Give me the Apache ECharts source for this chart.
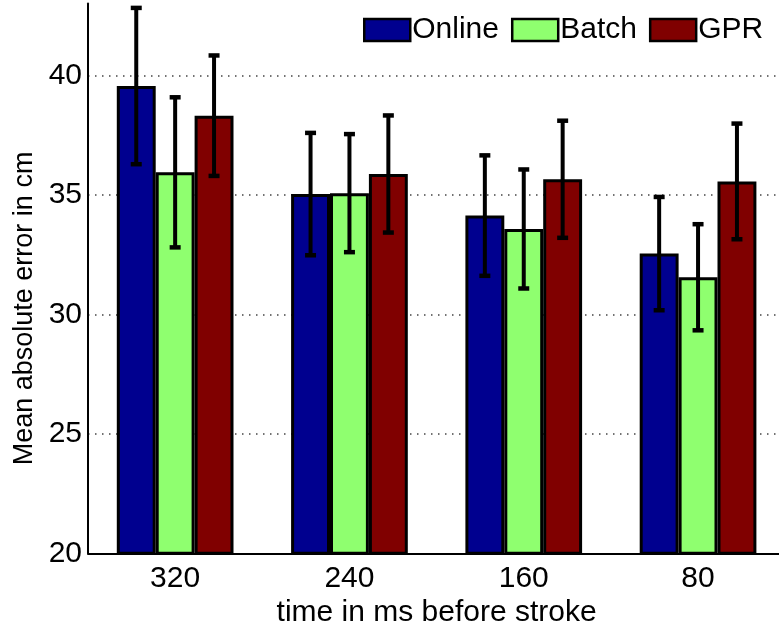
<!DOCTYPE html>
<html>
<head>
<meta charset="utf-8">
<script src="https://cdn.jsdelivr.net/npm/echarts@6/dist/echarts.min.js"></script>
<style>html,body{margin:0;padding:0;background:#fff}#c{width:779px;height:626px}</style>
</head>
<body>
<div id="c"></div>
<script>
const categories = ['320', '240', '160', '80'];
const seriesNames = ['Online', 'Batch', 'GPR'];
const online = [39.55, 35.03, 34.13, 32.54];
const batch = [35.94, 35.07, 33.57, 31.55];
const gpr = [38.31, 35.87, 35.65, 35.56];
const onlineErr = [3.27, 2.56, 2.52, 2.37];
const batchErr = [3.14, 2.47, 2.49, 2.22];
const gprErr = [2.52, 2.45, 2.45, 2.42];
const yTicks = [20, 25, 30, 35, 40];

const colors = ['#00008F', '#8FFF6F', '#800000'];
const BAR_W = 38.9;
const FONT = 'Liberation Sans, Arial, Helvetica, sans-serif';

const values = [online, batch, gpr];
const errs = [onlineErr, batchErr, gprErr];
const errData = [];
values.forEach((arr, si) => arr.forEach((v, ci) => {
  errData.push([ci, si, v - errs[si][ci], v + errs[si][ci]]);
}));

const chart = echarts.init(document.getElementById('c'), null, {renderer: 'canvas'});
chart.setOption({
  animation: false,
  backgroundColor: '#fff',
  grid: {left: 88, right: -6.2, top: 3.6, bottom: 72.7, containLabel: false, outerBoundsMode: 'none'},
  legend: {
    data: seriesNames,
    left: 358, top: 10,
    itemWidth: 46, itemHeight: 22, itemGap: 12,
    icon: 'rect',
    itemStyle: {borderColor: '#000', borderWidth: 2.5},
    textStyle: {fontFamily: FONT, fontSize: 30, color: '#000', padding: [0, 0, 0, -3]}
  },
  xAxis: {
    type: 'category',
    data: categories,
    boundaryGap: true,
    name: 'time in ms before stroke',
    nameLocation: 'middle',
    nameGap: 38,
    nameTextStyle: {fontFamily: FONT, fontSize: 30, color: '#000'},
    axisLine: {lineStyle: {color: '#000', width: 2}},
    axisTick: {show: false},
    axisLabel: {fontFamily: FONT, fontSize: 30, color: '#000', margin: 10},
    splitLine: {show: false}
  },
  yAxis: {
    type: 'value',
    min: 20, max: 43, interval: 5,
    name: 'Mean absolute error in cm',
    nameLocation: 'middle',
    nameGap: 50,
    nameTextStyle: {fontFamily: FONT, fontSize: 27, color: '#000', padding: [0, 60, 0, 0]},
    axisLine: {show: true, lineStyle: {color: '#000', width: 2}},
    axisTick: {show: false},
    axisLabel: {
      fontFamily: FONT, fontSize: 30, color: '#000', margin: 6,
      showMaxLabel: false,
      formatter: v => (yTicks.indexOf(v) >= 0 ? String(v) : '')
    },
    splitLine: {
      show: true, showMinLine: false, showMaxLine: false,
      lineStyle: {color: '#444', width: 1.5, type: [1.5, 5.5]}
    }
  },
  series: seriesNames.map((n, si) => ({
    name: n,
    type: 'bar',
    data: values[si],
    barWidth: BAR_W,
    barGap: '0%',
    itemStyle: {color: colors[si], borderColor: '#000', borderWidth: 3}
  })).concat([{
    type: 'custom',
    data: errData,
    encode: {x: 0, y: [2, 3]},
    z: 10,
    renderItem: function (params, api) {
      const ci = api.value(0), si = api.value(1);
      const lo = api.coord([ci, api.value(2)]);
      const hi = api.coord([ci, api.value(3)]);
      const x = lo[0] + (si - 1) * BAR_W;
      const cap = 5.5;
      const st = {stroke: '#000', lineWidth: 4};
      return {
        type: 'group',
        children: [
          {type: 'line', shape: {x1: x, y1: hi[1], x2: x, y2: lo[1]}, style: st},
          {type: 'line', shape: {x1: x - cap, y1: hi[1], x2: x + cap, y2: hi[1]}, style: {stroke: '#000', lineWidth: 4.5}},
          {type: 'line', shape: {x1: x - cap, y1: lo[1], x2: x + cap, y2: lo[1]}, style: {stroke: '#000', lineWidth: 4.5}}
        ]
      };
    }
  }])
});
</script>
</body>
</html>
